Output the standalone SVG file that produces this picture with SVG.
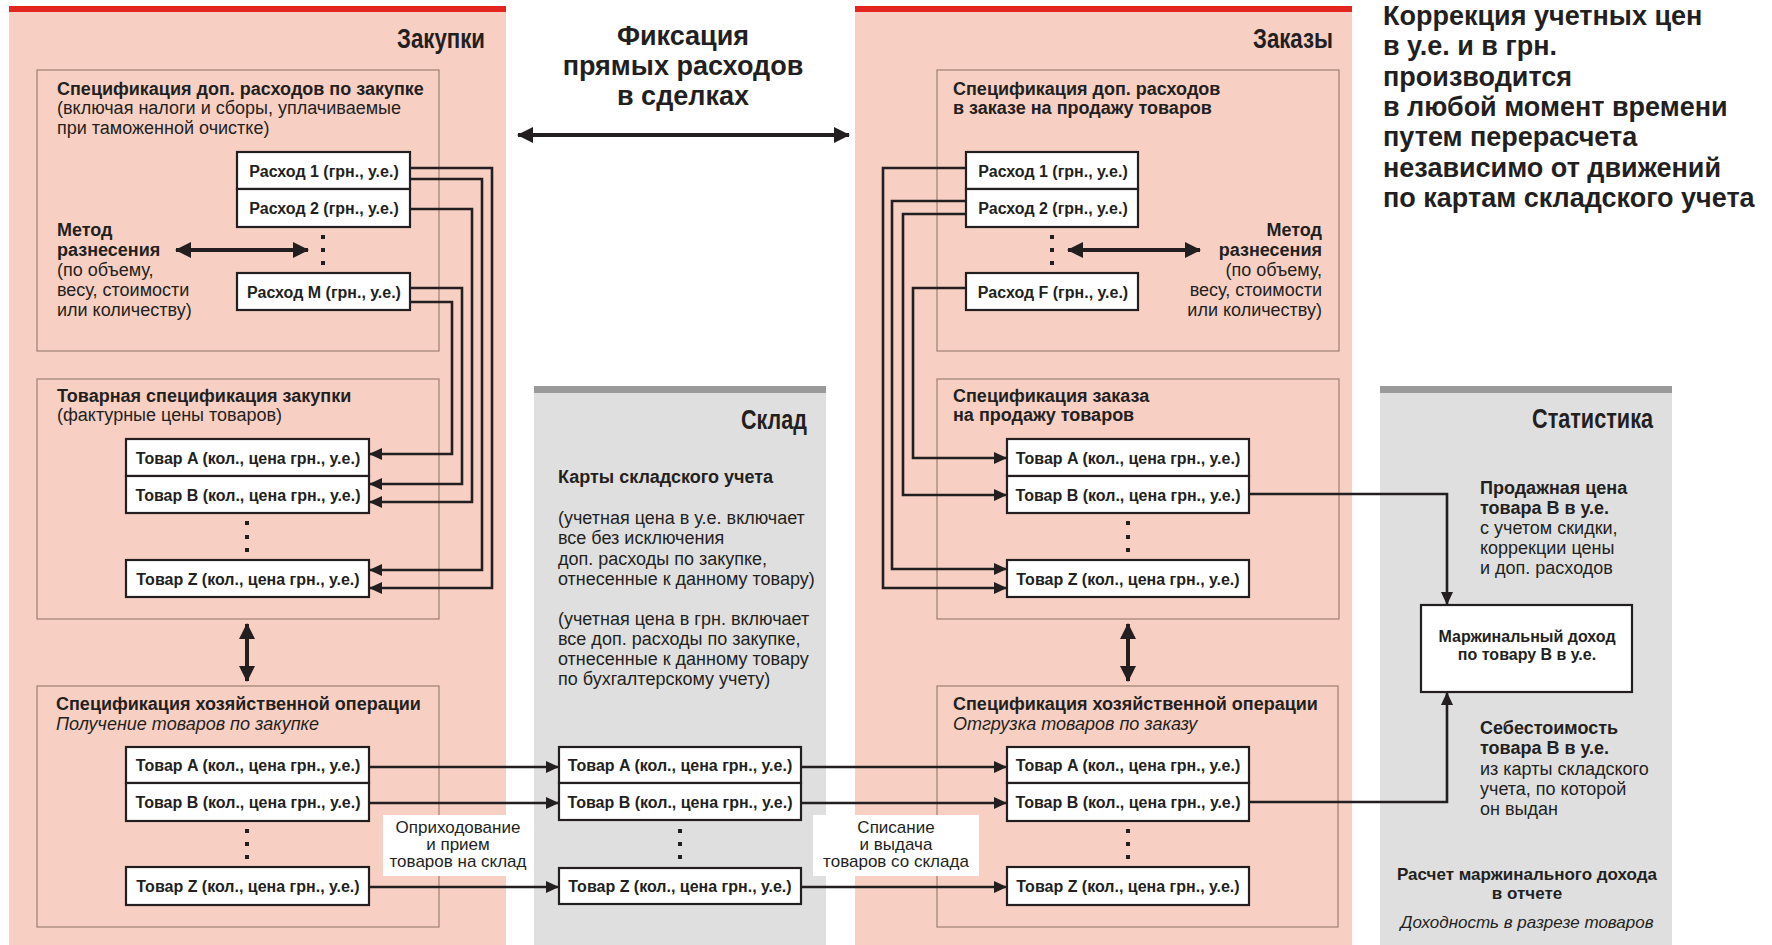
<svg xmlns="http://www.w3.org/2000/svg" width="1772" height="945" viewBox="0 0 1772 945">
<style>
text{font-family:"Liberation Sans",Arial,sans-serif;fill:#231f20}
.h{font-size:18px;font-weight:bold}
.r{font-size:18px}
.i{font-size:18px;font-style:italic}
.s{font-size:17px;font-weight:bold;text-anchor:middle}
.si{font-size:17px;font-style:italic;text-anchor:middle}
.bt{font-size:16px;font-weight:bold;text-anchor:middle}
.ttl{font-family:"Liberation Sans Narrow","Liberation Sans",sans-serif;font-size:28px;font-weight:bold;text-anchor:end}
.big{font-size:27px;font-weight:bold}
.lbl{font-size:17px;text-anchor:middle}
.pan{fill:#f8d0c3}
.gpan{fill:#dfdfdf}
.inner{fill:none;stroke:#a3857a;stroke-width:1.3}
.box{fill:#fff;stroke:#231f20;stroke-width:2.2}
.dot{fill:#231f20}
.c{fill:none;stroke:#231f20;stroke-width:2.6;marker-end:url(#ah)}
.d{fill:none;stroke:#231f20;stroke-width:4;marker-end:url(#bh);marker-start:url(#bhs)}
</style>
<defs>
<marker id="ah" markerUnits="userSpaceOnUse" markerWidth="13" markerHeight="12" refX="12" refY="6" orient="auto"><path d="M0,0 L13,6 L0,12 z" fill="#231f20"/></marker>
<marker id="bh" markerUnits="userSpaceOnUse" markerWidth="16" markerHeight="16" refX="15" refY="8" orient="auto"><path d="M0,0 L16,8 L0,16 z" fill="#231f20"/></marker>
<marker id="bhs" markerUnits="userSpaceOnUse" markerWidth="16" markerHeight="16" refX="15" refY="8" orient="auto-start-reverse"><path d="M0,0 L16,8 L0,16 z" fill="#231f20"/></marker>
</defs>

<g id="panels">
<rect class="pan" x="9" y="6" width="497" height="939"/>
<rect x="9" y="6" width="497" height="6" fill="#e0261f"/>
<rect class="pan" x="855" y="6" width="497" height="939"/>
<rect x="855" y="6" width="497" height="6" fill="#e0261f"/>
<rect class="gpan" x="534" y="386" width="292" height="559"/>
<rect x="534" y="386" width="292" height="7" fill="#9a9a9a"/>
<rect class="gpan" x="1380" y="386" width="292" height="559"/>
<rect x="1380" y="386" width="292" height="7" fill="#9a9a9a"/>
<text class="ttl" x="485" y="48" textLength="88" lengthAdjust="spacingAndGlyphs">Закупки</text>
<text class="ttl" x="1333" y="48" textLength="80" lengthAdjust="spacingAndGlyphs">Заказы</text>
<text class="ttl" x="807" y="429" textLength="66" lengthAdjust="spacingAndGlyphs">Склад</text>
<text class="ttl" x="1653" y="428" textLength="121" lengthAdjust="spacingAndGlyphs">Статистика</text>
</g>

<g id="fix-label">
<text class="big" x="683" y="45" text-anchor="middle">Фиксация</text>
<text class="big" x="683" y="75" text-anchor="middle">прямых расходов</text>
<text class="big" x="683" y="105" text-anchor="middle">в сделках</text>
</g>

<g id="correction-note">
<text class="big" x="1383" y="25">Коррекция учетных цен</text>
<text class="big" x="1383" y="55">в у.е. и в грн.</text>
<text class="big" x="1383" y="86">производится</text>
<text class="big" x="1383" y="116">в любой момент времени</text>
<text class="big" x="1383" y="146">путем перерасчета</text>
<text class="big" x="1383" y="177">независимо от движений</text>
<text class="big" x="1383" y="207">по картам складского учета</text>
</g>

<g id="purchase-expenses">
<rect class="inner" x="37" y="70" width="402" height="281"/>
<text class="h" x="57" y="95">Спецификация доп. расходов по закупке</text>
<text class="r" x="57" y="114">(включая налоги и сборы, уплачиваемые</text>
<text class="r" x="57" y="134">при таможенной очистке)</text>
<text class="h" x="57" y="236">Метод</text>
<text class="h" x="57" y="256">разнесения</text>
<text class="r" x="57" y="276">(по объему,</text>
<text class="r" x="57" y="296">весу, стоимости</text>
<text class="r" x="57" y="316">или количеству)</text>
</g>
<g id="p-exp1"><rect class="box" x="237" y="152" width="173" height="37"/><text class="bt" x="324" y="177">Расход 1 (грн., у.е.)</text></g>
<g id="p-exp2"><rect class="box" x="237" y="189" width="173" height="38"/><text class="bt" x="324" y="214">Расход 2 (грн., у.е.)</text></g>
<g id="p-expM"><rect class="box" x="237" y="273" width="173" height="37"/><text class="bt" x="324" y="298">Расход M (грн., у.е.)</text></g>
<g id="p-exp-dots" class="dot"><rect x="321" y="235" width="4" height="4"/><rect x="321" y="248" width="4" height="4"/><rect x="321" y="261" width="4" height="4"/></g>

<g id="purchase-goods">
<rect class="inner" x="37" y="379" width="402" height="240"/>
<text class="h" x="57" y="402">Товарная спецификация закупки</text>
<text class="r" x="57" y="421">(фактурные цены товаров)</text>
</g>
<g id="pg-A"><rect class="box" x="126" y="439" width="243" height="37"/><text class="bt" x="248" y="464">Товар A (кол., цена грн., у.е.)</text></g>
<g id="pg-B"><rect class="box" x="126" y="476" width="243" height="37"/><text class="bt" x="248" y="501">Товар B (кол., цена грн., у.е.)</text></g>
<g id="pg-Z"><rect class="box" x="126" y="560" width="243" height="37"/><text class="bt" x="248" y="585">Товар Z (кол., цена грн., у.е.)</text></g>
<g id="pg-dots" class="dot"><rect x="245" y="521" width="4" height="4"/><rect x="245" y="535" width="4" height="4"/><rect x="245" y="548" width="4" height="4"/></g>

<g id="purchase-operation">
<rect class="inner" x="37" y="686" width="402" height="241"/>
<text class="h" x="56" y="710">Спецификация хозяйственной операции</text>
<text class="i" x="56" y="730">Получение товаров по закупке</text>
</g>
<g id="po-A"><rect class="box" x="126" y="747" width="243" height="36"/><text class="bt" x="248" y="771">Товар A (кол., цена грн., у.е.)</text></g>
<g id="po-B"><rect class="box" x="126" y="783" width="243" height="38"/><text class="bt" x="248" y="808">Товар B (кол., цена грн., у.е.)</text></g>
<g id="po-Z"><rect class="box" x="126" y="867" width="243" height="38"/><text class="bt" x="248" y="892">Товар Z (кол., цена грн., у.е.)</text></g>
<g id="po-dots" class="dot"><rect x="245" y="829" width="4" height="4"/><rect x="245" y="842" width="4" height="4"/><rect x="245" y="855" width="4" height="4"/></g>

<g id="warehouse">
<text class="h" x="558" y="483">Карты складского учета</text>
<text class="r" x="558" y="524">(учетная цена в у.е. включает</text>
<text class="r" x="558" y="544">все без исключения</text>
<text class="r" x="558" y="565">доп. расходы по закупке,</text>
<text class="r" x="558" y="585">отнесенные к данному товару)</text>
<text class="r" x="558" y="625">(учетная цена в грн. включает</text>
<text class="r" x="558" y="645">все доп. расходы по закупке,</text>
<text class="r" x="558" y="665">отнесенные к данному товару</text>
<text class="r" x="558" y="685">по бухгалтерскому учету)</text>
</g>
<g id="w-A"><rect class="box" x="559" y="747" width="242" height="36"/><text class="bt" x="680" y="771">Товар A (кол., цена грн., у.е.)</text></g>
<g id="w-B"><rect class="box" x="559" y="783" width="242" height="37"/><text class="bt" x="680" y="808">Товар B (кол., цена грн., у.е.)</text></g>
<g id="w-Z"><rect class="box" x="559" y="868" width="242" height="36"/><text class="bt" x="680" y="892">Товар Z (кол., цена грн., у.е.)</text></g>
<g id="w-dots" class="dot"><rect x="678" y="829" width="4" height="4"/><rect x="678" y="842" width="4" height="4"/><rect x="678" y="855" width="4" height="4"/></g>

<g id="order-expenses">
<rect class="inner" x="937" y="70" width="402" height="281"/>
<text class="h" x="953" y="95">Спецификация доп. расходов</text>
<text class="h" x="953" y="114">в заказе на продажу товаров</text>
<text class="h" x="1322" y="236" text-anchor="end">Метод</text>
<text class="h" x="1322" y="256" text-anchor="end">разнесения</text>
<text class="r" x="1322" y="276" text-anchor="end">(по объему,</text>
<text class="r" x="1322" y="296" text-anchor="end">весу, стоимости</text>
<text class="r" x="1322" y="316" text-anchor="end">или количеству)</text>
</g>
<g id="o-exp1"><rect class="box" x="966" y="152" width="172" height="37"/><text class="bt" x="1053" y="177">Расход 1 (грн., у.е.)</text></g>
<g id="o-exp2"><rect class="box" x="966" y="189" width="172" height="38"/><text class="bt" x="1053" y="214">Расход 2 (грн., у.е.)</text></g>
<g id="o-expF"><rect class="box" x="966" y="273" width="172" height="37"/><text class="bt" x="1053" y="298">Расход F (грн., у.е.)</text></g>
<g id="o-exp-dots" class="dot"><rect x="1050" y="235" width="4" height="4"/><rect x="1050" y="248" width="4" height="4"/><rect x="1050" y="261" width="4" height="4"/></g>

<g id="order-goods">
<rect class="inner" x="937" y="379" width="402" height="240"/>
<text class="h" x="953" y="402">Спецификация заказа</text>
<text class="h" x="953" y="421">на продажу товаров</text>
</g>
<g id="og-A"><rect class="box" x="1007" y="439" width="242" height="37"/><text class="bt" x="1128" y="464">Товар A (кол., цена грн., у.е.)</text></g>
<g id="og-B"><rect class="box" x="1007" y="476" width="242" height="37"/><text class="bt" x="1128" y="501">Товар B (кол., цена грн., у.е.)</text></g>
<g id="og-Z"><rect class="box" x="1007" y="560" width="242" height="37"/><text class="bt" x="1128" y="585">Товар Z (кол., цена грн., у.е.)</text></g>
<g id="og-dots" class="dot"><rect x="1126" y="521" width="4" height="4"/><rect x="1126" y="535" width="4" height="4"/><rect x="1126" y="548" width="4" height="4"/></g>

<g id="order-operation">
<rect class="inner" x="937" y="686" width="401" height="241"/>
<text class="h" x="953" y="710">Спецификация хозяйственной операции</text>
<text class="i" x="953" y="730">Отгрузка товаров по заказу</text>
</g>
<g id="oo-A"><rect class="box" x="1007" y="747" width="242" height="36"/><text class="bt" x="1128" y="771">Товар A (кол., цена грн., у.е.)</text></g>
<g id="oo-B"><rect class="box" x="1007" y="783" width="242" height="38"/><text class="bt" x="1128" y="808">Товар B (кол., цена грн., у.е.)</text></g>
<g id="oo-Z"><rect class="box" x="1007" y="867" width="242" height="38"/><text class="bt" x="1128" y="892">Товар Z (кол., цена грн., у.е.)</text></g>
<g id="oo-dots" class="dot"><rect x="1126" y="829" width="4" height="4"/><rect x="1126" y="842" width="4" height="4"/><rect x="1126" y="855" width="4" height="4"/></g>

<g id="statistics">
<text class="h" x="1480" y="494">Продажная цена</text>
<text class="h" x="1480" y="514">товара B в у.е.</text>
<text class="r" x="1480" y="534">с учетом скидки,</text>
<text class="r" x="1480" y="554">коррекции цены</text>
<text class="r" x="1480" y="574">и доп. расходов</text>
<text class="h" x="1480" y="734">Себестоимость</text>
<text class="h" x="1480" y="754">товара B в у.е.</text>
<text class="r" x="1480" y="775">из карты складского</text>
<text class="r" x="1480" y="795">учета, по которой</text>
<text class="r" x="1480" y="815">он выдан</text>
<text class="s" x="1527" y="880">Расчет маржинального дохода</text>
<text class="s" x="1527" y="899">в отчете</text>
<text class="si" x="1527" y="928">Доходность в разрезе товаров</text>
</g>
<g id="margin"><rect class="box" x="1421" y="605" width="211" height="87"/><text class="bt" x="1527" y="642">Маржинальный доход</text><text class="bt" x="1527" y="660">по товару B в у.е.</text></g>

<g id="connectors">
<path class="c" d="M410,168 H492 V588 H370"/>
<path class="c" d="M410,179 H482 V570 H370"/>
<path class="c" d="M410,209 H472 V502 H370"/>
<path class="c" d="M410,288 H462 V484 H370"/>
<path class="c" d="M410,302 H452 V454 H370"/>
<path class="c" d="M966,168 H883 V588 H1006"/>
<path class="c" d="M966,201 H892 V569 H1006"/>
<path class="c" d="M966,214 H903 V495 H1006"/>
<path class="c" d="M966,288 H913 V458 H1006"/>
<path class="c" d="M1249,494 H1447 V604"/>
<path class="c" d="M1249,802 H1447 V693"/>
<path class="c" d="M369,767 H558"/>
<path class="c" d="M369,803 H558"/>
<path class="c" d="M369,887 H558"/>
<path class="c" d="M801,767 H1006"/>
<path class="c" d="M801,803 H1006"/>
<path class="c" d="M801,887 H1006"/>
<path class="d" d="M518,135 H849"/>
<path class="d" d="M176,250 H308"/>
<path class="d" d="M1068,250 H1200"/>
<path class="d" d="M247,624 V681"/>
<path class="d" d="M1128,624 V681"/>
</g>

<g id="labels">
<rect x="383" y="815" width="133" height="61" fill="#fff"/>
<text class="lbl" x="458" y="833">Оприходование</text>
<text class="lbl" x="458" y="850">и прием</text>
<text class="lbl" x="458" y="867">товаров на склад</text>
<rect x="813" y="815" width="166" height="61" fill="#fff"/>
<text class="lbl" x="896" y="833">Списание</text>
<text class="lbl" x="896" y="850">и выдача</text>
<text class="lbl" x="896" y="867">товаров со склада</text>
</g>
</svg>
